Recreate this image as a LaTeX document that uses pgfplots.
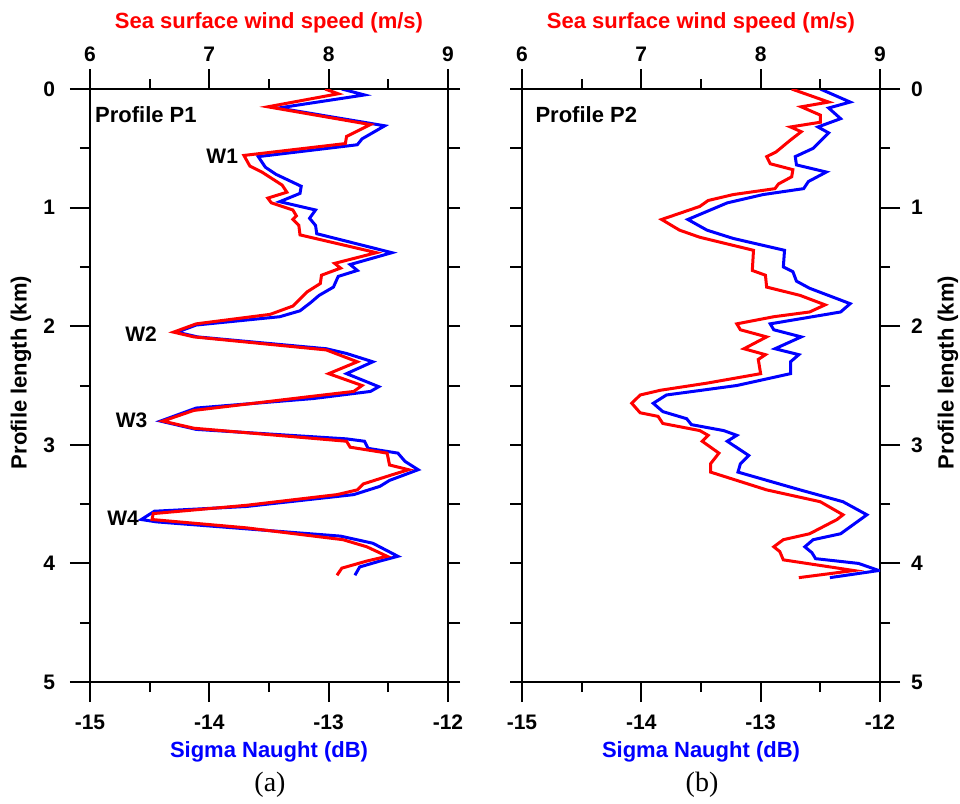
\documentclass[border=0pt]{standalone}
\usepackage{fontspec}
\setmainfont{Liberation Sans}
\newfontfamily\serif{Liberation Serif}
\usepackage{pgfplots}
\pgfplotsset{compat=1.18}

% data: (value, profile length in km)
\pgfplotstableread{
s k
-12.89 0.00
-12.70 0.05
-13.42 0.16
-12.53 0.31
-12.72 0.42
-12.76 0.47
-13.59 0.57
-13.53 0.66
-13.44 0.72
-13.23 0.82
-13.24 0.88
-13.41 0.95
-13.11 1.02
-13.16 1.09
-13.11 1.15
-13.10 1.22
-12.47 1.38
-12.82 1.48
-12.76 1.53
-12.92 1.58
-12.96 1.67
-13.08 1.74
-13.15 1.80
-13.24 1.87
-13.41 1.92
-14.11 1.99
-14.27 2.05
-14.10 2.09
-13.02 2.19
-12.85 2.23
-12.63 2.30
-12.85 2.40
-12.58 2.51
-12.65 2.55
-13.13 2.61
-14.11 2.69
-14.41 2.80
-14.11 2.87
-12.85 2.95
-12.70 2.97
-12.67 3.03
-12.42 3.07
-12.36 3.14
-12.25 3.21
-12.49 3.30
-12.57 3.35
-12.79 3.42
-13.69 3.52
-14.46 3.56
-14.57 3.63
-14.44 3.65
-12.90 3.77
-12.63 3.83
-12.42 3.94
-12.57 3.98
-12.74 4.03
-12.78 4.10
}\sigmaA

\pgfplotstableread{
w k
7.97 0.00
8.08 0.04
7.49 0.15
8.35 0.30
8.15 0.40
8.14 0.46
7.29 0.56
7.34 0.65
7.44 0.70
7.61 0.81
7.65 0.87
7.49 0.92
7.52 0.96
7.70 1.02
7.73 1.07
7.70 1.10
7.75 1.15
7.76 1.23
8.40 1.38
8.05 1.47
8.10 1.51
7.94 1.57
7.93 1.64
7.82 1.71
7.75 1.78
7.70 1.83
7.51 1.90
6.89 1.98
6.70 2.05
6.87 2.09
7.98 2.20
8.24 2.30
8.00 2.40
8.28 2.50
8.21 2.55
7.87 2.59
6.87 2.71
6.61 2.80
6.87 2.86
8.15 2.97
8.18 3.02
8.49 3.07
8.51 3.17
8.67 3.21
8.54 3.25
8.29 3.33
8.24 3.38
8.07 3.42
7.31 3.51
6.53 3.58
6.52 3.63
7.31 3.70
8.12 3.80
8.32 3.86
8.49 3.94
8.32 3.98
8.11 4.04
8.07 4.10
}\windA

\pgfplotstableread{
s k
-12.50 0.00
-12.25 0.11
-12.43 0.16
-12.33 0.25
-12.52 0.32
-12.43 0.37
-12.56 0.50
-12.71 0.57
-12.70 0.64
-12.45 0.70
-12.60 0.78
-12.64 0.84
-12.98 0.89
-13.28 0.96
-13.61 1.10
-13.45 1.19
-13.23 1.26
-12.80 1.36
-12.81 1.50
-12.73 1.54
-12.70 1.62
-12.59 1.68
-12.25 1.81
-12.33 1.88
-12.92 1.98
-12.89 2.03
-12.66 2.09
-12.88 2.19
-12.68 2.24
-12.75 2.30
-12.75 2.40
-13.20 2.50
-13.79 2.58
-13.90 2.65
-13.82 2.72
-13.62 2.78
-13.58 2.83
-13.31 2.88
-13.20 2.92
-13.28 2.97
-13.10 3.09
-13.17 3.16
-13.19 3.23
-12.67 3.38
-12.31 3.48
-12.11 3.59
-12.33 3.75
-12.56 3.80
-12.63 3.86
-12.57 3.91
-12.54 3.96
-12.18 4.00
-12.01 4.06
-12.42 4.12
}\sigmaB

\pgfplotstableread{
w k
8.26 0.00
8.57 0.11
8.34 0.15
8.50 0.22
8.50 0.28
8.25 0.32
8.34 0.36
8.25 0.43
8.13 0.53
8.05 0.57
8.08 0.63
8.27 0.68
8.26 0.74
8.15 0.80
8.12 0.84
7.77 0.89
7.56 0.94
7.49 0.99
7.17 1.10
7.32 1.19
7.49 1.25
7.94 1.36
7.93 1.53
8.04 1.57
8.05 1.67
8.33 1.74
8.54 1.82
8.41 1.88
8.11 1.92
7.80 1.98
7.83 2.03
8.05 2.09
7.86 2.19
8.04 2.24
7.98 2.28
8.00 2.40
7.55 2.48
7.16 2.54
6.99 2.58
6.92 2.65
6.99 2.73
7.14 2.76
7.18 2.82
7.49 2.88
7.56 2.92
7.51 2.97
7.65 3.07
7.58 3.16
7.58 3.23
8.05 3.38
8.50 3.48
8.69 3.59
8.64 3.63
8.41 3.75
8.19 3.80
8.11 3.86
8.16 3.90
8.19 3.97
8.78 4.06
8.32 4.12
}\windB

\tikzset{
  wlab/.style={font=\fontsize{10.5}{12}\selectfont\bfseries, anchor=east, inner sep=1pt},
  plab/.style={font=\fontsize{11}{13}\selectfont\bfseries, anchor=west, inner sep=0pt},
}

\pgfplotsset{
  panel/.style={
    scale only axis, width=179pt, height=296.5pt,
    ymin=0, ymax=5, y dir=reverse,
    axis line style={line width=1.2pt},
    tick align=outside,
    tick style={line width=1pt, black},
    major tick length=10pt, minor tick length=5pt,
    tick label style={font=\fontsize{10.5}{12}\selectfont\bfseries},
    label style={font=\fontsize{11}{13}\selectfont\bfseries},
    /pgf/number format/assume math mode=true,
  },
  % bottom axis, blue, with the labelled y side
  sigma/.style={panel,
    xmin=-15, xmax=-12,
    xtick={-15,-14,-13,-12}, minor xtick={-14.5,-13.5,-12.5},
    xtick pos=left,
    xticklabel style={yshift=-3pt},
    ytick={0,1,2,3,4,5}, minor ytick={0.5,1.5,2.5,3.5,4.5},
    xlabel={\color{blue}Sigma Naught (dB)},
    xlabel style={yshift=1pt},
    ylabel={Profile length (km)},
  },
  % top axis, red, with the plain y side
  wind/.style={panel,
    xmin=6, xmax=9,
    axis x line*=top,
    xtick={6,7,8,9}, minor xtick={6.5,7.5,8.5},
    xlabel={\color{red}Sea surface wind speed (m/s)},
    ytick={0.5,1,1.5,2,2.5,3,3.5,4,4.5}, yticklabels={},
    ytick style={/pgfplots/major tick length=6pt},
    extra y ticks={0,5}, extra y tick labels={},
    extra y tick style={major tick length=10pt},
  },
}

\begin{document}
\begin{tikzpicture}
\useasboundingbox (-45pt,-61pt) rectangle (435pt,341pt);

% panel (a)
\begin{axis}[sigma, ytick pos=left, yticklabel pos=left,
  yticklabel style={xshift=-4pt},
  ylabel style={at={(axis description cs:-0.193,0.5)}, anchor=center, xshift=6.5pt}]
\addplot[blue, line width=1.5pt] table[x=s, y=k] {\sigmaA};
\node[plab] at (axis cs:-14.96,0.22) {Profile P1};
\node[wlab] at (axis cs:-13.74,0.57) {W1};
\node[wlab] at (axis cs:-14.42,2.07) {W2};
\node[wlab] at (axis cs:-14.50,2.79) {W3};
\node[wlab] at (axis cs:-14.57,3.62) {W4};
\end{axis}
\begin{axis}[wind, axis y line*=right]
\addplot[red, line width=1.5pt] table[x=w, y=k] {\windA};
\end{axis}

% panel (b)
\begin{axis}[sigma, at={(216pt,0pt)}, ytick pos=right, yticklabel pos=right,
  yticklabel style={xshift=2pt},
  ylabel style={at={(axis description cs:1.19,0.5)}, anchor=center, xshift=6.5pt}]
\addplot[blue, line width=1.5pt] table[x=s, y=k] {\sigmaB};
\node[plab] at (axis cs:-14.89,0.22) {Profile P2};
\end{axis}
\begin{axis}[wind, at={(216pt,0pt)}, axis y line*=left]
\addplot[red, line width=1.5pt] table[x=w, y=k] {\windB};
\end{axis}

\node[font=\serif\fontsize{14}{16}\selectfont] at (90pt,-51.5pt) {(a)};
\node[font=\serif\fontsize{14}{16}\selectfont] at (306pt,-51.5pt) {(b)};
\end{tikzpicture}
\end{document}
